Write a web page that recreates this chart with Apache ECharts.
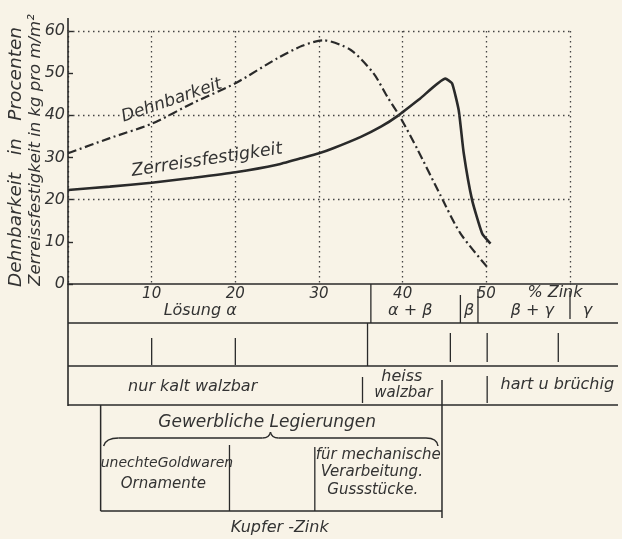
<!DOCTYPE html>
<html>
<head>
<meta charset="utf-8">
<script src="https://cdn.jsdelivr.net/npm/echarts@6/dist/echarts.min.js"></script>
<style>
  html, body { margin: 0; padding: 0; background: #f8f3e7; }
  #chart { width: 622px; height: 539px; }
</style>
</head>
<body>
<div id="chart"></div>
<script>
// Zinc content (%) and tensile strength (kg/mm²)
const zerreissZink = [0, 5, 10, 15, 20, 25, 27.8, 30, 31.7, 35, 37.4, 39.5, 42.1, 45.1, 45.9, 46.7, 47.3, 48.3, 49.5, 50.5];
const zerreissWerte = [22.3, 23.1, 24, 25.2, 26.5, 28.3, 29.8, 31, 32.2, 34.9, 37.3, 40, 44, 48.7, 47.6, 41.2, 31, 19.9, 12, 9.6];

// Zinc content (%) and elongation (%)
const dehnZink = [0, 5, 10, 15, 20, 25, 28, 30.5, 33.8, 36.5, 38.2, 39.7, 41.8, 44.5, 46.9, 50.2];
const dehnWerte = [31, 34.6, 38, 43, 47.6, 53.5, 56.5, 57.8, 55.5, 50, 44.3, 39.6, 31.8, 21.1, 12, 3.8];

// Axis ticks
const xTickLabels = [10, 20, 30, 40, 50];
const yTickLabels = [0, 10, 20, 30, 40, 50, 60];
const gridLevels = [20, 40, 60];

// Phase regions along the zinc axis
const phaseNames = ['Lösung α', 'α + β', 'β', 'β + γ', 'γ'];
const phaseLimits = [36.2, 46.9, 49.0, 60];
const structureMarks = [10, 20, 35.8, 45.7, 50.1, 58.6];
const walzNames = ['nur kalt walzbar', 'heiss', 'walzbar', 'hart u brüchig'];
const walzLimits = [35.2, 44.7, 50.1];
const legierungLimits = [3.9, 19.3, 29.5, 44.7];
const legierungNames = ['unechteGoldwaren', 'Ornamente', 'für mechanische', 'Verarbeitung.', 'Gussstücke.'];

const INK = '#2a2a2a';
const TXT = '#333';
const FONT = '"DejaVu Sans"';

const chart = echarts.init(document.getElementById('chart'), null, { renderer: 'canvas' });

const pairs = (xs, ys) => xs.map((x, i) => [x, ys[i]]);

chart.setOption({
  backgroundColor: '#f8f3e7',
  animation: false,
  grid: { left: 68, right: 52, top: 31, bottom: 255 },
  xAxis: {
    type: 'value', min: 0, max: 60, interval: 10,
    axisLine: { show: true, lineStyle: { color: INK, width: 1.6 } },
    axisTick: { show: false },
    axisLabel: {
      margin: 3, color: TXT, fontSize: 15, fontStyle: 'italic', fontFamily: 'DejaVu Sans',
      formatter: v => (xTickLabels.indexOf(v) >= 0 ? String(v) : '')
    },
    splitLine: { show: true, lineStyle: { color: '#444', width: 1.3, type: [1.5, 3.5] } }
  },
  yAxis: {
    type: 'value', min: 0, max: 60, interval: 10,
    axisLine: { show: true, lineStyle: { color: INK, width: 1.6 } },
    axisTick: { show: true, inside: true, length: 5, lineStyle: { color: INK, width: 1.4 } },
    axisLabel: {
      margin: 3, color: TXT, fontSize: 16, fontStyle: 'italic', fontFamily: 'DejaVu Sans',
      formatter: v => (yTickLabels.indexOf(v) >= 0 ? String(v) : '')
    },
    splitLine: { show: false }
  },
  series: [
    {
      name: 'Zerreissfestigkeit', type: 'line', data: pairs(zerreissZink, zerreissWerte),
      smooth: 0.15, symbol: 'none',
      lineStyle: { color: INK, width: 2.6 },
      markLine: {
        silent: true, symbol: 'none', label: { show: false },
        lineStyle: { color: '#444', width: 1.3, type: [1.5, 3.5] },
        data: gridLevels.map(v => [{ coord: [0, v] }, { coord: [60, v] }])
      },
      z: 3
    },
    {
      name: 'Dehnbarkeit', type: 'line', data: pairs(dehnZink, dehnWerte),
      smooth: 0.25, symbol: 'none',
      lineStyle: { color: INK, width: 2.2, type: [9, 3.5, 2, 3.5] },
      z: 3
    }
  ]
});

// Scheme below the diagram: rows are laid out in pixels, boundaries come from the zinc scale
const X = v => chart.convertToPixel({ gridIndex: 0 }, [v, 0])[0];
const Y = v => chart.convertToPixel({ gridIndex: 0 }, [0, v])[1];

const yAxisPx = Y(0);
const row1 = 323, row2 = 366, row3 = 405, boxBottom = 511;
const xLeft = X(0), xEnd = 618;

const g = [];
const line = (x1, y1, x2, y2, w) => g.push({
  type: 'line', silent: true,
  shape: { x1, y1, x2, y2 },
  style: { stroke: INK, lineWidth: w || 1.5 }
});
const curve = (x1, y1, cpx1, cpy1, x2, y2) => g.push({
  type: 'bezierCurve', silent: true,
  shape: { x1, y1, cpx1, cpy1, x2, y2 },
  style: { stroke: INK, lineWidth: 1.4, fill: null }
});
const text = (str, x, y, size, align, rot) => g.push({
  type: 'text', silent: true, x, y, rotation: rot || 0,
  style: {
    text: str, fill: TXT, font: 'italic ' + size + 'px ' + FONT,
    textAlign: align || 'center', textVerticalAlign: 'middle'
  }
});

// frame lines
line(X(60), yAxisPx, xEnd, yAxisPx, 1.6);
line(xLeft, row1, xEnd, row1);
line(xLeft, row2, xEnd, row2);
line(xLeft, row3, xEnd, row3);
line(xLeft, 18, xLeft, Y(60), 1.6);
line(xLeft, yAxisPx, xLeft, row3 + 1, 1.6);

// row 1: phases
line(X(phaseLimits[0]), yAxisPx, X(phaseLimits[0]), row1, 1.3);
line(X(phaseLimits[1]), 295, X(phaseLimits[1]), row1, 1.3);
line(X(phaseLimits[2]), 289, X(phaseLimits[2]), row1, 1.3);
line(X(phaseLimits[3]), 291, X(phaseLimits[3]), row1 - 4, 1.3);
text('% Zink', X(58.2), 293, 16);
text(phaseNames[0], X(15.8), 311, 16);
text(phaseNames[1], X(40.9), 311, 16);
text(phaseNames[2], (X(phaseLimits[1]) + X(phaseLimits[2])) / 2, 311, 16);
text(phaseNames[3], X(55.5), 311, 16);
text(phaseNames[4], X(62.1), 311, 16);

// row 2: structure marks
structureMarks.forEach((m, i) => {
  if (i === 2) line(X(m), row1, X(m), row2, 1.3);
  else if (i < 2) line(X(m), 338, X(m), row2 - 1, 1.3);
  else line(X(m), 333, X(m), row2 - 4, 1.3);
});

// row 3: rolling behaviour
line(X(walzLimits[0]), 377, X(walzLimits[0]), row3 - 2, 1.3);
line(X(walzLimits[1]), 380, X(walzLimits[1]), 518, 1.5);
line(X(walzLimits[2]), 376, X(walzLimits[2]), row3 - 2, 1.3);
text(walzNames[0], X(14.9), 387, 16);
text(walzNames[1], X(39.9), 377, 16);
text(walzNames[2], X(40.1), 393, 15);
text(walzNames[3], X(51.7), 385, 16, 'left');

// technical alloys box with its brace
const bx0 = X(legierungLimits[0]), bx1 = X(legierungLimits[3]);
line(bx0, row3, bx0, boxBottom, 1.5);
line(bx0, boxBottom, bx1, boxBottom, 1.5);
line(X(legierungLimits[1]), 445, X(legierungLimits[1]), boxBottom, 1.3);
line(X(legierungLimits[2]), 447, X(legierungLimits[2]), boxBottom, 1.3);
const mid = X(24.2);
curve(bx0 + 3, 446, bx0 + 5, 438, bx0 + 18, 438);
line(bx0 + 18, 438, mid - 8, 438, 1.4);
curve(mid - 8, 438, mid - 1, 438, mid, 432);
curve(mid, 432, mid + 1, 438, mid + 8, 438);
line(mid + 8, 438, bx1 - 16, 438, 1.4);
curve(bx1 - 16, 438, bx1 - 5, 438, bx1 - 4, 446);
text('Gewerbliche Legierungen', X(23.8), 423, 17);
text(legierungNames[0], bx0, 463, 14, 'left');
text(legierungNames[1], X(11.4), 484, 15);
text(legierungNames[2], X(29.6), 455, 15, 'left');
text(legierungNames[3], X(30.2), 472, 15, 'left');
text(legierungNames[4], X(31.0), 490, 15, 'left');
text('Kupfer -Zink', X(25.3), 528, 16);

// axis titles
text('Dehnbarkeit   in   Procenten', 16, 157, 18.5, 'center', Math.PI / 2);
text('Zerreissfestigkeit in kg pro m/m²', 36, 150, 16.5, 'center', Math.PI / 2);

// curve names
text('Dehnbarkeit', X(12.4), Y(43.5), 17, 'center', 0.33);
text('Zerreissfestigkeit', X(16.6), Y(29.4), 17.5, 'center', 0.15);

chart.setOption({ graphic: { elements: g } });
</script>
</body>
</html>
